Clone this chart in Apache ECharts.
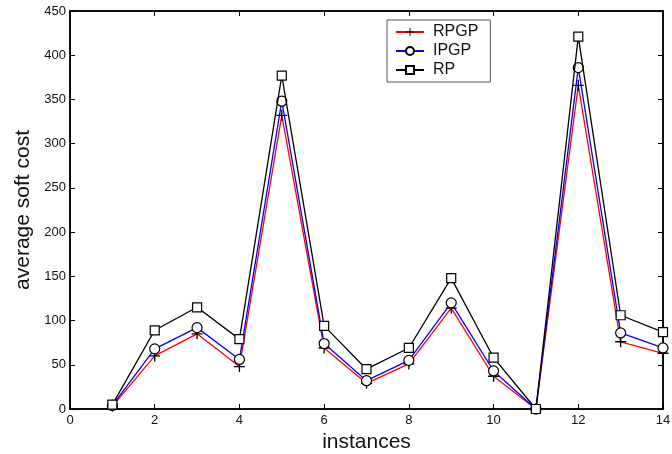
<!DOCTYPE html>
<html>
<head>
<meta charset="utf-8">
<script src="https://cdn.jsdelivr.net/npm/echarts@6/dist/echarts.min.js"></script>
<style>html,body{margin:0;padding:0;background:#fff}#c{width:672px;height:454px}</style>
</head>
<body>
<div id="c"></div>
<script>
var instances = [1,2,3,4,5,6,7,8,9,10,11,12,13,14];
var rpgp = [3,60,85,48,332,69,29,51,114,37,0,366,76,63];
var ipgp = [4,68,92,56,348,74,32,55,120,43,0,386,86,69];
var rp   = [5,89,115,79,377,94,45,69,148,58,0,421,106,87];
var xTicks = {min:0, max:14, interval:2};
var yTicks = {min:0, max:450, interval:50};

function pairs(v){ return instances.map(function(x,i){ return [x, v[i]]; }); }
var font = 'Liberation Sans, Arial, sans-serif';
var plus = 'path://M4.4,0H5.6V4.4H10V5.6H5.6V10H4.4V5.6H0V4.4H4.4Z';

var chart = echarts.init(document.getElementById('c'));
var axisLineStyle = {color:'#000', width:1.5};
var tick = {show:true, inside:true, length:5, lineStyle:{color:'#000', width:1}};
chart.setOption({
  animation:false,
  backgroundColor:'#fff',
  grid:{left:70, right:9, top:11, bottom:45, show:true, borderColor:'#000', borderWidth:1.5,
        containLabel:false, outerBoundsMode:'none'},
  legend:{
    orient:'vertical', left:387, top:20, backgroundColor:'#fff',
    borderColor:'#555', borderWidth:1, borderRadius:0,
    padding:[4,12,4,8], itemWidth:28, itemHeight:10, itemGap:3,
    textStyle:{fontFamily:font, fontSize:16, color:'#111', padding:[0,0,0,4]},
    data:['RPGP','IPGP','RP']
  },
  xAxis:[{
    type:'value', min:xTicks.min, max:xTicks.max, interval:xTicks.interval,
    name:'instances', nameLocation:'middle', nameGap:18,
    nameTextStyle:{fontFamily:font, fontSize:21, color:'#111', verticalAlign:'top'},
    axisLine:{show:true, onZero:false, lineStyle:axisLineStyle},
    axisTick:tick,
    axisLabel:{fontFamily:font, fontSize:13, color:'#111', margin:5},
    splitLine:{show:false}
  },{
    type:'value', position:'top', min:xTicks.min, max:xTicks.max, interval:xTicks.interval,
    axisLine:{show:true, onZero:false, lineStyle:axisLineStyle},
    axisTick:tick,
    axisLabel:{show:false}, splitLine:{show:false}
  }],
  yAxis:[{
    type:'value', min:yTicks.min, max:yTicks.max, interval:yTicks.interval,
    name:'average soft cost', nameLocation:'middle', nameGap:29,
    nameTextStyle:{fontFamily:font, fontSize:21, color:'#111'},
    axisLine:{show:true, onZero:false, lineStyle:axisLineStyle},
    axisTick:tick,
    axisLabel:{fontFamily:font, fontSize:13, color:'#111', margin:4},
    splitLine:{show:false}
  },{
    type:'value', position:'right', min:yTicks.min, max:yTicks.max, interval:yTicks.interval,
    axisLine:{show:true, onZero:false, lineStyle:axisLineStyle},
    axisTick:tick,
    axisLabel:{show:false}, splitLine:{show:false}
  }],
  series:[
    {name:'RPGP', type:'line', data:pairs(rpgp), symbol:plus, symbolSize:11,
     lineStyle:{color:'#ff0000', width:1.3}, itemStyle:{color:'#000'}, z:2},
    {name:'IPGP', type:'line', data:pairs(ipgp), symbol:'circle', symbolSize:10,
     lineStyle:{color:'#0000ff', width:1.3}, itemStyle:{color:'#fff', borderColor:'#000', borderWidth:1.2}, z:3},
    {name:'RP', type:'line', data:pairs(rp), symbol:'rect', symbolSize:9,
     lineStyle:{color:'#000', width:1.3}, itemStyle:{color:'#fff', borderColor:'#000', borderWidth:1.2}, z:4}
  ]
});
</script>
</body>
</html>
